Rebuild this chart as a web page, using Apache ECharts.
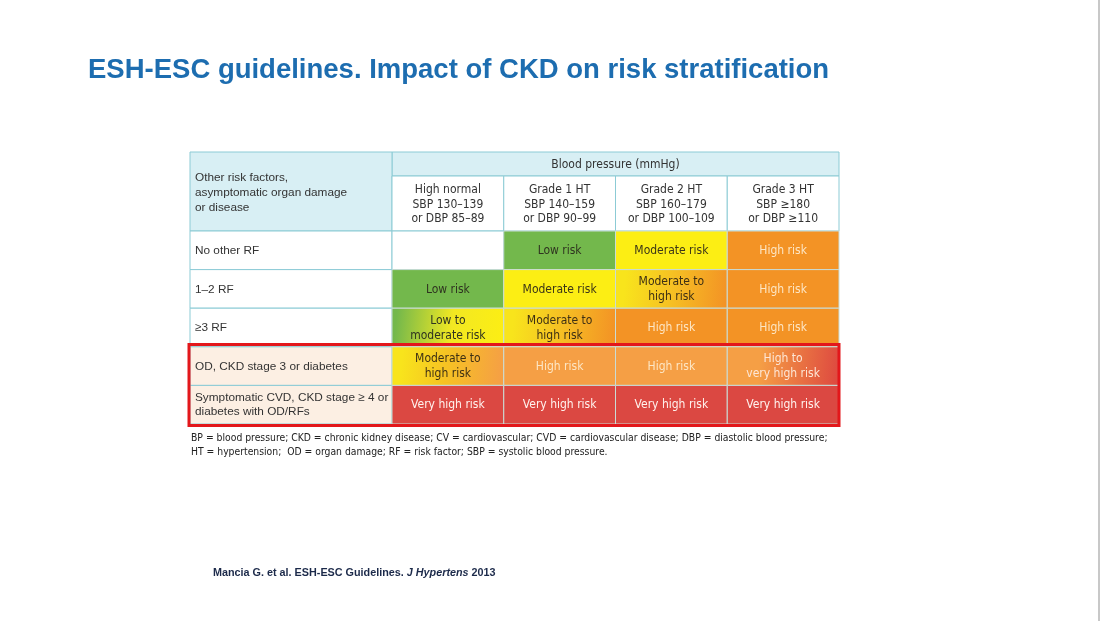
<!DOCTYPE html>
<html>
<head>
<meta charset="utf-8">
<title>ESH-ESC risk stratification</title>
<script src="https://cdn.jsdelivr.net/npm/echarts@6/dist/echarts.min.js"></script>
<style>
  html, body { margin: 0; padding: 0; background: #fff; }
  #chart { width: 1101px; height: 625px; }
</style>
</head>
<body>
<div id="chart"></div>
<script>
// table content
var colHeaders = [
  'High normal\nSBP 130–139\nor DBP 85–89',
  'Grade 1 HT\nSBP 140–159\nor DBP 90–99',
  'Grade 2 HT\nSBP 160–179\nor DBP 100–109',
  'Grade 3 HT\nSBP ≥180\nor DBP ≥110'
]
var rowLabels = [
  'No other RF',
  '1–2 RF',
  '≥3 RF',
  'OD, CKD stage 3 or diabetes',
  'Symptomatic CVD, CKD stage ≥ 4 or\ndiabetes with OD/RFs'
]
// risk level per cell (rows x columns)
var riskLevels = [
  ['none', 'low', 'mod', 'high'],
  ['low', 'mod', 'modHigh', 'high'],
  ['lowMod', 'modHigh', 'high', 'high'],
  ['modHigh', 'high', 'high', 'highVHigh'],
  ['vhigh', 'vhigh', 'vhigh', 'vhigh']
]
var riskNames = {
  none: '',
  low: 'Low risk',
  lowMod: 'Low to\nmoderate risk',
  mod: 'Moderate risk',
  modHigh: 'Moderate to\nhigh risk',
  high: 'High risk',
  highVHigh: 'High to\nvery high risk',
  vhigh: 'Very high risk'
}
var headerTitle = 'Blood pressure (mmHg)'
var cornerTitle = 'Other risk factors,\nasymptomatic organ damage\nor disease'
var footnote = 'BP = blood pressure; CKD = chronic kidney disease; CV = cardiovascular; CVD = cardiovascular disease; DBP = diastolic blood pressure;\nHT = hypertension;  OD = organ damage; RF = risk factor; SBP = systolic blood pressure.'

var NARROW = "'Liberation Sans Narrow', 'DejaVu Sans Condensed', 'Liberation Sans', Arial, sans-serif"
var SANS = "'Liberation Sans', Arial, sans-serif"
var LINE = '#8ccbd5'

var GREEN = '#73b84c', YELLOW = '#fcee14', ORANGE = '#f39325', RED = '#de4a40'
// the highlighted rows (3, 4) are a bit paler in the source
var ORANGE_PALE = '#f59f45', RED_PALE = '#db4842'
function lin(stops) {
  return new echarts.graphic.LinearGradient(0, 0, 1, 0.3, stops.map(function (c) {
    return { offset: c[0], color: c[1] }
  }))
}
function levelStyle(lvl, row) {
  var pale = row >= 3
  var orange = pale ? ORANGE_PALE : ORANGE
  switch (lvl) {
    case 'low': return { fill: GREEN, text: '#2f3320' }
    case 'lowMod': return { fill: lin([[0.05, GREEN], [0.55, '#f2e822'], [1, YELLOW]]), text: '#2f3320' }
    case 'mod': return { fill: YELLOW, text: '#3b3518' }
    case 'modHigh': return { fill: lin([[0.1, '#f8e41c'], [0.5, '#f6c223'], [1, orange]]), text: '#3e3014' }
    case 'high': return { fill: orange, text: '#fde6c4' }
    case 'highVHigh': return { fill: lin([[0.3, orange], [1, RED]]), text: '#fde6d6' }
    case 'vhigh': return { fill: pale ? RED_PALE : RED, text: '#fff3ee' }
    default: return { fill: '#ffffff', text: '#333' }
  }
}

var cellData = []
riskLevels.forEach(function (row, r) {
  row.forEach(function (lvl, c) { cellData.push([c, r, lvl]) })
})

function cellRect(api, x, y) {
  var p = api.coord([x, y])
  var s = api.size([1, 1])
  return { x: p[0] - s[0] / 2, y: p[1] - s[1] / 2, width: s[0], height: s[1] }
}

function renderCell(params, api) {
  var d = cellData[params.dataIndex]
  var r = cellRect(api, api.value(0), api.value(1))
  var st = levelStyle(d[2], d[1])
  return {
    type: 'group',
    children: [
      { type: 'rect', shape: r, style: { fill: st.fill, stroke: d[2] === 'none' ? LINE : '#c9dcd6', lineWidth: 1 } },
      { type: 'text', style: {
        text: riskNames[d[2]], x: r.x + r.width / 2, y: r.y + r.height / 2 + 0.5,
        align: 'center', verticalAlign: 'middle', font: '12px ' + NARROW, lineHeight: 15, fill: st.text
      } }
    ]
  }
}

function renderRowLabel(params, api) {
  var r = cellRect(api, 0, api.value(1))
  var idx = api.value(1)
  return {
    type: 'group',
    children: [
      { type: 'rect', shape: r, style: { fill: idx >= 3 ? '#fcefe3' : '#ffffff', stroke: LINE, lineWidth: 1 } },
      { type: 'text', style: {
        text: rowLabels[idx], x: r.x + 5, y: r.y + r.height / 2 + 0.5,
        align: 'left', verticalAlign: 'middle', font: '11.8px ' + SANS, lineHeight: 14, fill: '#333'
      } }
    ]
  }
}

function renderHeader(params, api) {
  var r = cellRect(api, api.value(0), 0)
  return {
    type: 'group',
    children: [
      { type: 'rect', shape: r, style: { fill: '#ffffff', stroke: LINE, lineWidth: 1 } },
      { type: 'text', style: {
        text: colHeaders[api.value(0)], x: r.x + r.width / 2, y: r.y + r.height / 2 + 1,
        align: 'center', verticalAlign: 'middle', font: '12px ' + NARROW, lineHeight: 14.5, fill: '#333'
      } }
    ]
  }
}

var chart = echarts.init(document.getElementById('chart'))
var option = {
  backgroundColor: '#ffffff',
  animation: false,
  grid: [
    { left: 392, top: 231, width: 447, height: 193 },
    { left: 190, top: 231, width: 202, height: 193 },
    { left: 392, top: 176, width: 447, height: 55 }
  ],
  xAxis: [
    { gridIndex: 0, type: 'category', data: colHeaders, show: false },
    { gridIndex: 1, type: 'category', data: [''], show: false },
    { gridIndex: 2, type: 'category', data: colHeaders, show: false }
  ],
  yAxis: [
    { gridIndex: 0, type: 'category', data: rowLabels, inverse: true, show: false },
    { gridIndex: 1, type: 'category', data: rowLabels, inverse: true, show: false },
    { gridIndex: 2, type: 'category', data: [''], show: false }
  ],
  series: [
    { type: 'custom', xAxisIndex: 1, yAxisIndex: 1, renderItem: renderRowLabel,
      data: rowLabels.map(function (t, i) { return [0, i] }) },
    { type: 'custom', xAxisIndex: 2, yAxisIndex: 2, renderItem: renderHeader,
      data: colHeaders.map(function (t, i) { return [i, 0] }) },
    { type: 'custom', xAxisIndex: 0, yAxisIndex: 0, renderItem: renderCell, data: cellData, z: 3 }
  ],
  graphic: [
    { type: 'text', left: 88, top: 56, style: {
      text: 'ESH-ESC guidelines. Impact of CKD on risk stratification',
      font: 'bold 27.5px ' + SANS, fill: '#1d6db0' } },
    // header band and corner cell
    { type: 'rect', shape: { x: 392, y: 152, width: 447, height: 24 },
      style: { fill: '#d8eff4', stroke: LINE, lineWidth: 1 } },
    { type: 'text', x: 615.5, y: 164.5, style: { text: headerTitle, align: 'center', verticalAlign: 'middle',
      font: '12px ' + NARROW, fill: '#333' } },
    { type: 'rect', shape: { x: 190, y: 152, width: 202, height: 79 },
      style: { fill: '#d8eff4', stroke: LINE, lineWidth: 1 } },
    { type: 'text', x: 195, y: 193, style: { text: cornerTitle, align: 'left', verticalAlign: 'middle',
      font: '11.8px ' + SANS, lineHeight: 15, fill: '#333' } },
    // highlight box
    { type: 'rect', z: 10, shape: { x: 189, y: 344.5, width: 650, height: 81 },
      style: { fill: 'none', stroke: '#e3171b', lineWidth: 3 } },
    { type: 'text', x: 191, y: 445, style: { text: footnote, align: 'left', verticalAlign: 'middle',
      font: '10.3px ' + NARROW, lineHeight: 14, fill: '#222' } },
    { type: 'text', x: 213, y: 573, style: {
      text: '{n|Mancia G. et al. ESH-ESC Guidelines. }{i|J Hypertens}{n| 2013}',
      verticalAlign: 'middle',
      rich: {
        n: { font: 'bold 10.8px ' + SANS, fill: '#1c2a4a' },
        i: { font: 'italic bold 10.8px ' + SANS, fill: '#1c2a4a' }
      } } },
    { type: 'line', shape: { x1: 1099, y1: 0, x2: 1099, y2: 621 }, style: { stroke: '#c8c8c8', lineWidth: 2 } }
  ]
}
chart.setOption(option)
</script>
</body>
</html>
